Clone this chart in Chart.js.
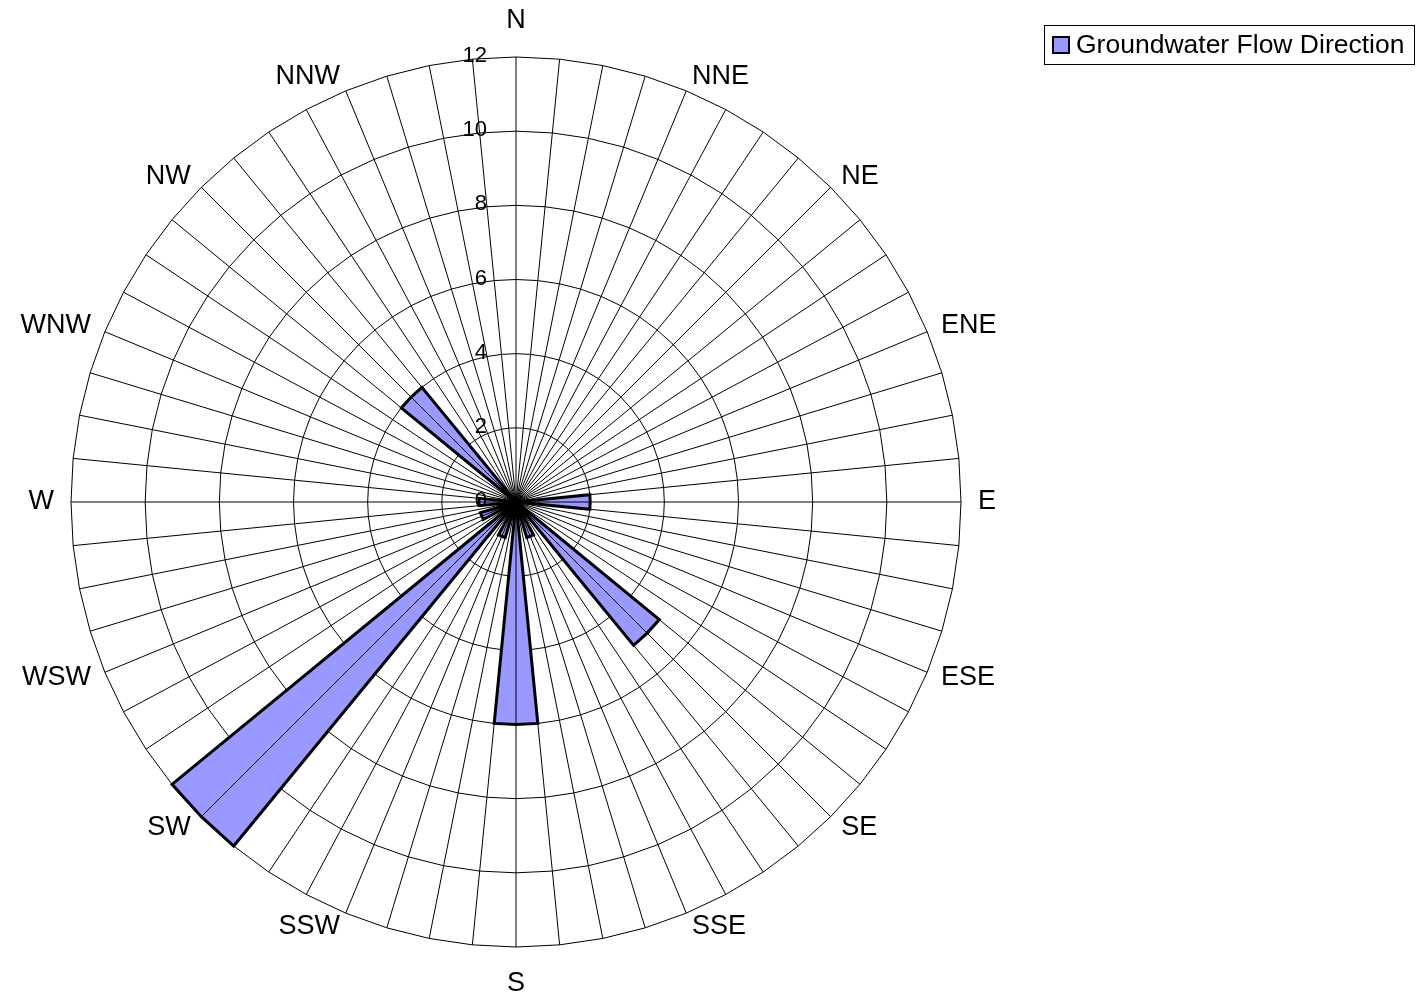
<!DOCTYPE html>
<html>
<head>
<meta charset="utf-8">
<script src="https://cdn.jsdelivr.net/npm/chart.js@4.4.1/dist/chart.umd.min.js"></script>
<style>
  body { margin: 0; background: #fff; }
</style>
</head>
<body>
<canvas id="flow-rose" width="1424" height="997"></canvas>
<script>
// compass points, one every 4 spokes (64 spokes in total)
const directions = ['N', 'NNE', 'NE', 'ENE', 'E', 'ESE', 'SE', 'SSE',
                    'S', 'SSW', 'SW', 'WSW', 'W', 'WNW', 'NW', 'NNW'];

// one value per spoke, each bar covers the 3 spokes around its compass point
const flowValues = [
  0, 0, 0, 0, 0, 0, 0, 0,
  0, 0, 0, 0, 0, 0, 0, 2,
  2, 2, 0, 0, 0, 0, 0, 5,
  5, 5, 0, 1, 1, 1, 0, 6,
  6, 6, 0, 1, 1, 1, 0, 12,
  12, 12, 0, 1, 1, 1, 0, 1,
  1, 1, 0, 0, 0, 0, 0, 4,
  4, 4, 0, 0, 0, 0, 0, 0
];

const seriesName = 'Groundwater Flow Direction';
const axisMax = 12;
const axisStep = 2;

const spokeLabels = flowValues.map((v, i) => (i % 4 === 0 ? directions[i / 4] : ''));

const fontFamily = '"Liberation Sans", Arial, sans-serif';
Chart.defaults.font.family = fontFamily;
Chart.defaults.color = '#000';

// spokes go over the bars, like in the excel chart
const spokeLines = {
  id: 'spokeLines',
  afterDatasetsDraw(chart) {
    const r = chart.scales.r;
    const ctx = chart.ctx;
    ctx.save();
    ctx.strokeStyle = '#000';
    ctx.lineWidth = 1;
    ctx.beginPath();
    for (let i = 0; i < chart.data.labels.length; i++) {
      const p = r.getPointPosition(i, r.drawingArea);
      ctx.moveTo(r.xCenter, r.yCenter);
      ctx.lineTo(p.x, p.y);
    }
    ctx.stroke();
    ctx.restore();
  }
};

// value labels sit left of the north spoke
const tickLabels = {
  id: 'tickLabels',
  afterDatasetsDraw(chart) {
    const r = chart.scales.r;
    const ctx = chart.ctx;
    ctx.save();
    ctx.font = '22px ' + fontFamily;
    ctx.fillStyle = '#000';
    ctx.textAlign = 'right';
    ctx.textBaseline = 'middle';
    r.ticks.forEach(function (t) {
      const y = r.yCenter - r.getDistanceFromCenterForValue(t.value);
      ctx.fillText(String(t.value), r.xCenter - 29, y - 1);
    });
    ctx.restore();
  }
};

// framed legend top right
const boxedLegend = {
  id: 'boxedLegend',
  afterDraw(chart) {
    const ctx = chart.ctx;
    const ds = chart.data.datasets[0];
    ctx.save();
    ctx.strokeStyle = '#000';
    ctx.lineWidth = 1;
    ctx.strokeRect(1044.5, 25.5, 370, 39);
    ctx.fillStyle = ds.backgroundColor;
    ctx.fillRect(1053, 37, 16, 16);
    ctx.lineWidth = 2;
    ctx.strokeRect(1053, 37, 16, 16);
    ctx.fillStyle = '#000';
    ctx.font = '26.5px ' + fontFamily;
    ctx.textAlign = 'left';
    ctx.textBaseline = 'middle';
    ctx.fillText(ds.label, 1076, 46);
    ctx.restore();
  }
};

new Chart(document.getElementById('flow-rose'), {
  type: 'radar',
  data: {
    labels: spokeLabels,
    datasets: [{
      label: seriesName,
      data: flowValues,
      fill: true,
      backgroundColor: '#9999FF',
      borderColor: '#000',
      borderWidth: 3,
      pointRadius: 0,
      tension: 0
    }]
  },
  options: {
    responsive: false,
    animation: false,
    layout: {
      padding: { left: 0, right: 406, top: 7, bottom: 0 }
    },
    plugins: {
      legend: { display: false },
      tooltip: { enabled: false }
    },
    scales: {
      r: {
        min: 0,
        max: axisMax,
        ticks: { stepSize: axisStep, display: false },
        grid: { color: '#000', lineWidth: 1 },
        angleLines: { display: false },
        pointLabels: {
          color: '#000',
          // N/E/S/W keep a full line box, the others are centred on their spoke end
          font: function (c) {
            return { size: 27, lineHeight: c.index % 16 === 0 ? 1 : 0 };
          },
          padding: function (c) {
            if (c.index % 32 === 0) return 23;
            if (c.index % 16 === 0) return 17;
            return 15;
          }
        }
      }
    }
  },
  plugins: [spokeLines, tickLabels, boxedLegend]
});
</script>
</body>
</html>
